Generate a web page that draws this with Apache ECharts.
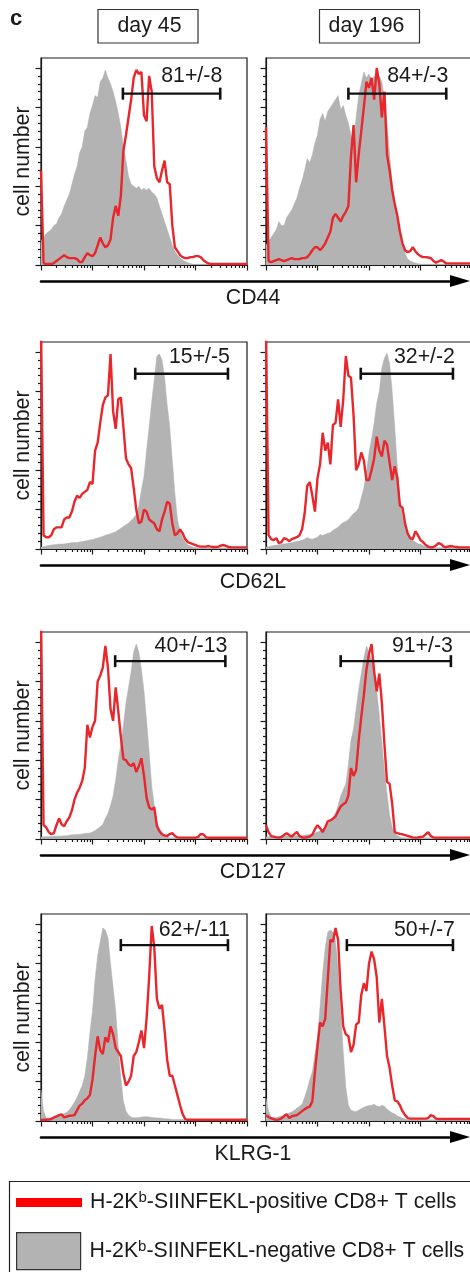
<!DOCTYPE html>
<html><head><meta charset="utf-8">
<script src="https://cdn.jsdelivr.net/npm/echarts@6/dist/echarts.min.js"></script>
<style>html,body{margin:0;padding:0;background:#fff}#c{width:470px;height:1272px}</style>
</head><body><div id="c"></div>
<script>
// ---------------- DATA (bins of 0.05 decade on a 4-decade log axis, 81 bins; % of max) ----------------
const cd44D45Pos = [48,1,0.5,0.5,0.5,1,2,3,4,5,
 4,3.5,3.5,3.5,3,1.5,1.5,4,6,5,
 4.5,6,10,14,11,9,10,13,24,30,
 25,35,58,66,75,84,95,99,97,98,
 76,73,96,88,50,44,42,48,53,42,
 41,20,9,7,5,4,3.5,3.5,4,4,
 4.5,4.5,4,2.5,1.5,0.8,0.5,0.5,0.5,0.5,
 0.5,0.5,0.5,0.5,0.5,0.5,0.5,0.5,0.5,0.5,0.5];
const cd44D45Neg = [12,14,16,17,18,20,21,24,26,30,
 33,36,41,46,50,57,60,68,70,77,
 81,86,85,93,95,99,95,92,88,83,
 77,70,60,53,45,41,40,39,40,38,
 39,38,39,37,36,34,30,26,22,18,
 14,10,7,5,3.5,2.5,1.8,1.2,0.8,0.4,
 0.4,0.4,0.4,0.4,0.4,0.4,0.4,0.4,0.4,0.4,
 0.4,0.4,0.4,0.4,0.4,0.4,0.4,0.4,0.4,0.4,0.4];
const cd44D196Pos = [70,2,1.5,2,2.5,3,2.5,2,2.5,3,
 3.5,3,3,3,3.5,3.5,4,5.5,7.5,9,
 9,7.5,9,11,14,17,24,26,24,22,
 25,27,30,55,71,42,56,68,80,93,
 90,95,84,100,92,75,88,56,48,38,
 31,25,17,11,7.5,6.5,7,9,7,5.5,
 4.5,4,4,3.8,3.5,2,1.2,1.8,2.5,1.8,
 0.8,0.8,0.8,0.8,0.8,0.8,0.8,0.8,0.8,0.8,0.8];
const cd44D196Neg = [10,12,14,16,18,22,20,20,24,26,
 28,31,34,39,43,48,54,52,56,62,
 66,74,77,73,78,80,82,84,86,79,
 81,76,72,66,63,75,86,92,98,95,
 97,94,96,95,96,93,84,72,56,42,
 31,24,17,10,6,3,2,1.5,1,0.8,
 0.4,0.4,0.4,0.4,0.4,0.4,0.4,0.4,0.4,0.4,
 0.4,0.4,0.4,0.4,0.4,0.4,0.4,0.4,0.4,0.4,0.4];
const cd62lD45Pos = [110,7,6,6,7,10,11,11,11,15,
 16,16,19,24,27,26,28,29,30,34,
 33,50,54,64,73,77,78,99,70,61,
 76,77,62,46,43,41,31,20,13,14,
 20,19,15,14,13,10,9,15,19,24,
 23,13,7,8,10,8,5,3.5,3,2.5,
 2,1.5,1.2,1.2,1.2,1.5,1.2,1,1,1.2,
 1.8,2,1.5,1,0.8,0.8,0.8,0.8,0.8,0.8,0.8];
const cd62lD45Neg = [1,1.2,1.5,1.8,2,2.2,2.3,2.5,2.5,2.6,
 2.8,3,3.2,3.3,3.3,3.5,3.8,4,4.3,4.6,
 4.8,5.2,5.6,6,6.4,7,7.4,7.8,8.3,8.8,
 9.6,10.5,11.4,12.3,13.2,14.5,15.8,17.5,22,30,
 37,50,62,75,86,98,99,96,87,73,
 62,45,28,15,9,5.5,3.5,2,1.5,1,
 0.7,0.5,0.5,0.5,0.5,0.5,0.5,0.5,0.5,0.5,
 0.5,0.5,0.5,0.5,0.5,0.5,0.5,0.5,0.5,0.5,0.5];
const cd62lD196Pos = [110,7,5,4.5,5.5,3,3.5,5.5,5,4,
 5,5.5,6,7,10,18,32,34,27,19,
 36,43,59,50,54,43,63,64,76,62,
 76,98,88,87,68,40,43,49,45,35,
 35,40,46,57,50,47,55,53,44,35,
 42,36,22,21,13,8,5.5,5,9,7,
 4.5,3.5,2,1.2,0.8,1,1.8,3,2.5,1.2,
 1,1.3,1.5,1.2,1,0.8,0.8,0.8,0.8,0.8,0.8];
const cd62lD196Neg = [1,1.2,1.5,1.8,2,2.2,2.4,2.5,2.8,3,
 3.2,3.5,3.8,4,4.5,5,5.8,5.2,5,5.5,
 6,7.4,6.8,7.5,8,8.3,9.5,10.3,11,12.5,
 13.5,14,15,16.5,18,19,21,26,31,39,
 49,56,64,74,80,92,97,99.5,94,80,
 62,42,25,16,11,7.5,5.5,4.5,3.5,2.7,
 2.4,1.8,1.2,1,0.6,0.6,0.6,0.6,0.6,0.6,
 0.6,0.6,0.6,0.6,0.6,0.6,0.6,0.6,0.6,0.6,0.6];
const cd127D45Pos = [110,7,6,3.5,2.4,3,7,10.5,7.5,6.5,
 9,11,14.5,20,23.5,26,29.5,36,58,51.5,
 57,60,80,83,87,98,87,66,60,77,
 65,52,40.5,40,38,37,38.5,34,37,41,
 32,21,16,15,16,6.6,4,2.4,1.8,1.5,
 2.5,3,1.5,0.8,0.7,0.7,0.7,0.7,0.7,0.7,
 0.7,1,2.5,2.4,1,0.6,0.6,0.6,0.6,0.6,
 0.6,0.6,0.6,0.6,0.6,0.6,0.6,0.6,0.6,0.6,0.6];
const cd127D45Neg = [1,1.1,1.2,1.2,1.3,1.4,1.4,1.5,1.5,1.6,
 1.7,1.9,2.1,2.2,2.3,2.4,2.6,2.8,2.9,3,
 3.5,4.3,5.2,6.2,7.5,10.5,13,17,22,30,
 40,48,58,69,77,85,95,99,95,86,
 75,60,44,27,17,8.5,5,3,1.8,1.1,
 0.6,0.6,0.6,0.6,0.6,0.6,0.6,0.6,0.6,0.6,
 0.6,0.6,0.6,0.6,0.6,0.6,0.6,0.6,0.6,0.6,
 0.6,0.6,0.6,0.6,0.6,0.6,0.6,0.6,0.6,0.6,0.6];
const cd127D196Pos = [7,3.5,1.5,1.2,0.8,0.7,1,2,2.9,2,
 1.2,2.5,3.6,1.5,0.8,0.7,0.9,1.3,2.3,5,
 7,5.5,3.5,6,9,9.5,10.3,11.5,14,16.5,
 17.6,18.5,22,36,32,35,50,62,73,86,
 94,99,85,75,84,69,48,29,28,18,
 3.5,3,2.6,2.4,2,1.6,1.2,0.8,0.7,0.8,
 1,1.2,2.4,3.4,1.5,0.8,0.7,0.7,0.7,0.7,
 0.7,0.7,0.7,0.7,0.7,0.7,0.7,0.7,0.7,0.7,0.7];
const cd127D196Neg = [1,1.1,1.2,1.2,1.3,1.3,1.4,1.4,1.5,1.5,
 1.5,1.6,1.6,1.7,1.8,2,2.1,2.2,2.4,3,
 3.5,4,5,6.3,7.8,9,10.8,13,17,22,
 25,28,38,50,56,66,76,84,92,98,
 95,91,85,75,63,49,35,23,12,6,
 3,1.8,1,0.6,0.6,0.6,0.6,0.6,0.6,0.6,
 0.6,0.6,0.6,0.6,0.6,0.6,0.6,0.6,0.6,0.6,
 0.6,0.6,0.6,0.6,0.6,0.6,0.6,0.6,0.6,0.6,0.6];
const klrgD45Pos = [0.5,0.5,0.6,0.7,1,1.8,2.3,3,3.4,1.8,
 2.2,2.7,2.8,3,5.4,7.8,8.8,10.5,11.5,13.2,
 21,33,43,36,34,42.5,40,48,44,37,
 35,33,24,18,20,23,33,35,40,46,
 37,52,73,99,88,62,57,59,46,31,
 23,23,18,13,8,3.5,1,0.6,0.6,0.6,
 0.6,0.6,0.6,0.6,0.6,0.6,0.6,0.6,0.6,0.6,
 0.6,0.6,0.6,0.6,0.6,0.6,0.6,0.6,0.6,0.6,0.6];
const klrgD45Neg = [16,5,1.5,1.5,1.6,1.8,2,2.5,3,3.8,
 4.5,5.6,7.5,9.5,12,15,18,23,32,45,
 56,72,84,91,98,97,93,80,68,56,
 38,22,10,5,3,2,1.7,1.7,1.8,2,
 2.2,2.2,2,1.8,1.7,1.6,1.5,1.4,1.2,1.1,
 1,0.7,0.7,0.7,0.7,0.7,0.7,0.7,0.7,0.7,
 0.7,0.7,0.7,0.7,0.7,0.7,0.7,0.7,0.7,0.7,
 0.7,0.7,0.7,0.7,0.7,0.7,0.7,0.7,0.7,0.7,0.7];
const klrgD196Pos = [3,2,1.3,1,0.5,0.8,1.3,2.5,3.5,1.5,
 2.4,2.7,3,4,5,6,6.8,7.3,10,25,
 38,50,48,52,72,92,91,98,92,66,
 48,44,43,35,38.6,49,50,64,70,66,
 80,86,82,73,50,62,48,33,27,18,
 10.5,10,8,5,3,1.5,1.2,1.2,1.2,1.2,
 1.2,1.2,1.2,1.5,3,2.5,1.2,1,1,1,
 1,1,1,1,1,1,1,1,1,1,1];
const klrgD196Neg = [11.5,5,2,1.7,1.8,2.2,2.5,2.8,3.3,4,
 4.7,5.5,6.5,7.5,8.5,12,16,21,25,34,
 42,58,75,88,96,97,96,91,78,56,
 35,17,8,5.5,5,4.8,5.5,6.3,7,7.5,
 7.8,8,8.5,7.6,7.2,8,7.5,6,5,4.2,
 3.5,2.5,2,1.5,1,0.6,0.6,0.6,0.6,0.6,
 0.6,0.6,0.6,0.6,0.6,0.6,0.6,0.6,0.6,0.6,
 0.6,0.6,0.6,0.6,0.6,0.6,0.6,0.6,0.6,0.6,0.6];

// gates (in bin units) and their percentages
const gateStart = [31.8, 32.0, 36.6, 36.8, 28.8, 29.0, 31.0, 31.4];
const gateEnd   = [69.6, 70.0, 72.6, 72.6, 71.6, 71.8, 72.6, 72.6];
const gateLevel = [87, 87, 89, 89, 90.3, 90.3, 89.3, 89.3];
const gateText  = ['81+/-8', '84+/-3', '15+/-5', '32+/-2', '40+/-13', '91+/-3', '62+/-11', '50+/-7'];

const markers = ['CD44', 'CD62L', 'CD127', 'KLRG-1'];
const days = ['day 45', 'day 196'];
const posName = 'H-2Kb-SIINFEKL-positive CD8+ T cells';
const negName = 'H-2Kb-SIINFEKL-negative CD8+ T cells';

// axis ticks
const majorXTicks = [0, 20, 40, 60, 80];          // decades (bin units)
const decadeStarts = [0, 1, 2, 3];
const minorMultiples = [2, 3, 4, 5, 6, 7, 8, 9];
const majorYTicks = [0, 20, 40, 60, 80, 100];
const minorYTicks = [4, 8, 12, 16, 24, 28, 32, 36, 44, 48, 52, 56, 64, 68, 72, 76, 84, 88, 92, 96];

const panelPos = [cd44D45Pos, cd44D196Pos, cd62lD45Pos, cd62lD196Pos, cd127D45Pos, cd127D196Pos, klrgD45Pos, klrgD196Pos];
const panelNeg = [cd44D45Neg, cd44D196Neg, cd62lD45Neg, cd62lD196Neg, cd127D45Neg, cd127D196Neg, klrgD45Neg, klrgD196Neg];

// ---------------- LAYOUT ----------------
const FONT = '"Liberation Sans", Arial, Helvetica, sans-serif';
const FS = 21.3;
const INK = '#1a1a1a', RED = '#e8262b', GRAY = '#b3b3b3';
const rowTops = [58, 342, 632, 914];
const colLefts = [41, 266];
const PW = 206, PH = 207, YMAX = 105.1, XMAX = 80;
const labelDy = [-18, -17, -15, -15];

const minorXTicks = [];
decadeStarts.forEach(d => minorMultiples.forEach(m => minorXTicks.push(20 * (d + Math.log10(m)))));

const grids = [], xAxes = [], yAxes = [], series = [];
const tickStyle = {color: INK, width: 1.2};

panelPos.forEach((pos, k) => {
  const r = Math.floor(k / 2), c = k % 2;
  const gi = grids.length;
  grids.push({left: colLefts[c], top: rowTops[r], width: PW, height: PH, show: true,
    borderColor: INK, borderWidth: 1.2, backgroundColor: 'transparent', outerBoundsMode: 'none', containLabel: false});
  const xi = xAxes.length;
  xAxes.push({type: 'value', gridIndex: gi, min: 0, max: XMAX, position: 'bottom',
    axisLine: {show: true, onZero: false, lineStyle: tickStyle},
    axisTick: {show: true, customValues: majorXTicks, length: 5.5, lineStyle: tickStyle},
    axisLabel: {show: false}, splitLine: {show: false}});
  xAxes.push({type: 'value', gridIndex: gi, min: 0, max: XMAX, position: 'bottom',
    axisLine: {show: false, onZero: false},
    axisTick: {show: true, customValues: minorXTicks, length: 3, lineStyle: tickStyle},
    axisLabel: {show: false}, splitLine: {show: false}});
  const yi = yAxes.length;
  yAxes.push({type: 'value', gridIndex: gi, min: 0, max: YMAX, position: 'left',
    name: c === 0 ? 'cell number' : '', nameLocation: 'middle', nameGap: 7,
    nameTextStyle: {fontSize: FS, color: INK, fontFamily: FONT},
    axisLine: {show: true, onZero: false, lineStyle: tickStyle},
    axisTick: {show: true, customValues: majorYTicks, length: 5.5, lineStyle: tickStyle},
    axisLabel: {show: false}, splitLine: {show: false}});
  yAxes.push({type: 'value', gridIndex: gi, min: 0, max: YMAX, position: 'left',
    axisLine: {show: false, onZero: false},
    axisTick: {show: true, customValues: minorYTicks, length: 3, lineStyle: tickStyle},
    axisLabel: {show: false}, splitLine: {show: false}});

  series.push({type: 'line', name: negName, xAxisIndex: xi, yAxisIndex: yi, silent: true,
    data: panelNeg[k].map((v, i) => [i, v]), symbol: 'none',
    lineStyle: {color: GRAY, width: 0.5}, itemStyle: {color: GRAY},
    areaStyle: {color: GRAY, opacity: 1}, z: 2});
  series.push({type: 'line', name: posName, xAxisIndex: xi, yAxisIndex: yi, silent: true,
    data: pos.map((v, i) => [i, v]), symbol: 'none',
    lineStyle: {color: RED, width: 2.4}, itemStyle: {color: RED}, z: 3});
  series.push({type: 'line', xAxisIndex: xi, yAxisIndex: yi, silent: true,
    symbol: 'rect', symbolSize: [2.6, 12], showSymbol: true,
    lineStyle: {color: '#111', width: 2.4}, itemStyle: {color: '#111'}, z: 4,
    data: [[gateStart[k], gateLevel[k]],
      {value: [gateEnd[k], gateLevel[k]], label: {show: true, formatter: gateText[k],
        position: 'inside', align: 'right', verticalAlign: 'middle', offset: [2, labelDy[r]],
        fontSize: FS, color: INK, fontFamily: FONT, textBorderWidth: 0}}]});
});

// arrow axes (one per row, spanning both panels)
markers.forEach((m, r) => {
  const gi = grids.length;
  grids.push({left: 41, top: rowTops[r], width: 419, height: PH, show: false, outerBoundsMode: 'none', containLabel: false});
  xAxes.push({type: 'value', gridIndex: gi, min: 0, max: 1, position: 'bottom', offset: 16,
    name: m, nameLocation: 'middle', nameGap: 7,
    nameTextStyle: {fontSize: FS, color: INK, fontFamily: FONT, padding: [0, 0, 0, 5]},
    axisLine: {show: true, onZero: false, symbol: ['none', 'triangle'], symbolSize: [12, 20],
      lineStyle: {color: '#000', width: 2.6}},
    axisTick: {show: false}, axisLabel: {show: false}, splitLine: {show: false}});
  yAxes.push({type: 'value', gridIndex: gi, show: false, min: 0, max: 1});
});

const richText = {
  t: {fontSize: FS, lineHeight: 24, color: INK, fontFamily: FONT},
  s: {fontSize: 15, lineHeight: 15, verticalAlign: 'top', color: INK, fontFamily: FONT}
};
const legendFmt = name => name === posName
  ? '{t|H-2K}{s|b}{t|-SIINFEKL-positive CD8+ T cells}'
  : '{t|H-2K}{s|b}{t|-SIINFEKL-negative CD8+ T cells}';

const legends = [
  {data: [{name: posName, icon: 'rect', itemStyle: {color: '#ff0000', borderWidth: 0}}],
   left: 16, top: 1190.5, padding: 0, itemWidth: 66, itemHeight: 9, selectedMode: false,
   formatter: legendFmt, textStyle: {fontSize: FS, color: INK, fontFamily: FONT, padding: [0, 0, 0, 3], rich: richText}},
  {data: [{name: negName, icon: 'rect', itemStyle: {color: GRAY, borderColor: '#333', borderWidth: 1.2}}],
   left: 16, top: 1232, padding: 0, itemWidth: 64, itemHeight: 37, selectedMode: false,
   formatter: legendFmt, textStyle: {fontSize: FS, color: INK, fontFamily: FONT, padding: [0, 0, 0, 4], rich: richText}}
];

const graphics = [
  {type: 'text', x: 10, y: 19, style: {text: 'c', fontSize: 22, fontWeight: 'bold', fontFamily: FONT, fill: INK, align: 'left', verticalAlign: 'middle'}},
  {type: 'rect', shape: {x: 98, y: 9.5, width: 100, height: 33.5}, style: {fill: '#fff', stroke: '#333', lineWidth: 1.2}},
  {type: 'rect', shape: {x: 319.5, y: 9.5, width: 100, height: 33.5}, style: {fill: '#fff', stroke: '#333', lineWidth: 1.2}},
  {type: 'text', x: 149.5, y: 26, style: {text: days[0], fontSize: FS, fontFamily: FONT, fill: INK, align: 'center', verticalAlign: 'middle'}},
  {type: 'text', x: 366.5, y: 26, style: {text: days[1], fontSize: FS, fontFamily: FONT, fill: INK, align: 'center', verticalAlign: 'middle'}},
  {type: 'rect', shape: {x: 9.5, y: 1181.5, width: 480, height: 120}, style: {fill: 'none', stroke: '#222', lineWidth: 1.2}}
];

const chart = echarts.init(document.getElementById('c'), null, {renderer: 'canvas', width: 470, height: 1272});
chart.setOption({
  animation: false,
  backgroundColor: '#fff',
  textStyle: {fontFamily: FONT},
  grid: grids, xAxis: xAxes, yAxis: yAxes, series: series,
  legend: legends, graphic: graphics
});
</script></body></html>
